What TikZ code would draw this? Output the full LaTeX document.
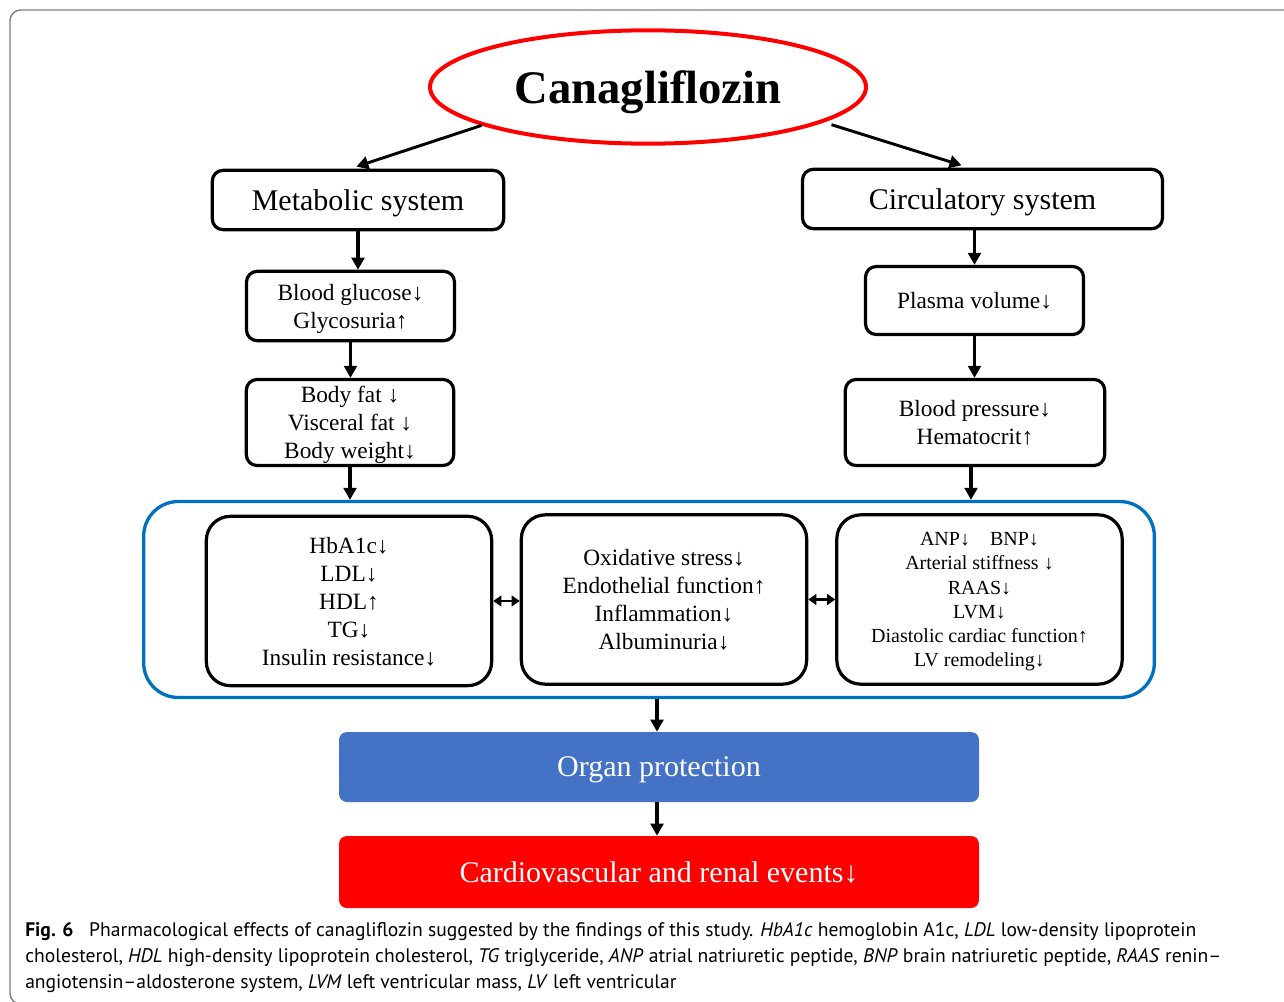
\documentclass[tikz,border=0pt]{standalone}
\usepackage{fontspec}
\setmainfont{Liberation Serif}
\newfontfamily\capfont{PT Sans}
\usetikzlibrary{shapes.geometric,arrows.meta}
\definecolor{groupblue}{HTML}{0070C0}
\definecolor{organblue}{HTML}{4472C4}
\definecolor{eventred}{HTML}{FF0000}
\definecolor{framegray}{HTML}{808080}

\begin{document}
\begin{tikzpicture}[x=0.75pt,y=-0.75pt,
	box/.style={draw, line width=2.4pt, rounded corners=8pt, align=center, inner sep=0pt, text depth=0pt},
	bigbox/.style={box, rounded corners=18pt, minimum width=214pt, minimum height=127pt},
	fillbox/.style={rounded corners=6pt, text=white, inner sep=0pt, minimum width=480pt, text depth=0pt,
		font=\fontsize{22.5}{27}\selectfont},
	arr/.style={line width=2.5pt, -{Triangle[length=9pt,width=9.5pt]}},
	dblarr/.style={line width=2.2pt, {Triangle[length=6pt,width=8pt]}-{Triangle[length=6pt,width=8pt]}},
	capline/.style={anchor=base west, inner sep=0pt, font=\capfont\fontsize{14.7}{17}\selectfont}]

	\useasboundingbox (0,0) rectangle (1284,1002);
	\clip (0,0) rectangle (1284,1002);

	% Draw the page frame
	\draw[framegray, line width=1.1pt, rounded corners=8pt] (10,10) rectangle (1320,1004);

	% Draw the drug on top
	\node[draw=eventred, line width=3pt, ellipse, minimum width=327pt, minimum height=85pt,
		inner sep=0pt, text depth=0pt, font=\bfseries\fontsize{35}{40}\selectfont] (cana) at (648,87) {Canagliflozin};

	% Draw the two systems
	\node[box, minimum width=218.5pt, minimum height=44.5pt, font=\fontsize{22.5}{27}\selectfont]
		(metab) at (358,200) {Metabolic system};
	\node[box, minimum width=270pt, minimum height=44.5pt, font=\fontsize{22.5}{27}\selectfont]
		(circ) at (982.5,199) {Circulatory system};

	% Draw the metabolic branch
	\node[box, minimum width=156pt, minimum height=52pt, font=\fontsize{17.5}{21}\selectfont]
		(gluc) at (350.5,306) {Blood glucose↓\\Glycosuria↑};
	\node[box, minimum width=155.5pt, minimum height=64.5pt, font=\fontsize{17.5}{21}\selectfont]
		(fat) at (350,422.5) {Body fat ↓\\Visceral fat ↓\\Body weight↓};

	% Draw the circulatory branch
	\node[box, minimum width=163.5pt, minimum height=51pt, font=\fontsize{17.5}{21}\selectfont]
		(plasma) at (974.5,300.5) {Plasma volume↓};
	\node[box, minimum width=194.5pt, minimum height=64.5pt, font=\fontsize{17.5}{21}\selectfont]
		(bp) at (975,422.5) {Blood pressure↓\\Hematocrit↑};

	% Draw the blue group and the three effect boxes
	\node[draw=groupblue, line width=2.5pt, rounded corners=26pt, minimum width=758pt,
		minimum height=147pt] (group) at (649,599.5) {};
	\node[bigbox, font=\fontsize{17.5}{21}\selectfont] (lipid) at (349,601)
		{HbA1c↓\\LDL↓\\HDL↑\\TG↓\\Insulin resistance↓};
	\node[bigbox, font=\fontsize{17.5}{21}\selectfont] (oxid) at (664,599.5)
		{Oxidative stress↓\\Endothelial function↑\\Inflammation↓\\Albuminuria↓};
	\node[bigbox, font=\fontsize{15}{18.1}\selectfont] (cardiac) at (979.5,599.5)
		{ANP↓\quad BNP↓\\Arterial stiffness ↓\\RAAS↓\\LVM↓\\Diastolic cardiac function↑\\LV remodeling↓};

	% Draw the outcome boxes
	\node[fillbox, fill=organblue, minimum height=52.5pt] (organ) at (659,767) {Organ protection};
	\node[fillbox, fill=eventred, minimum height=54pt] (events) at (659,872) {Cardiovascular and renal events↓};

	% Draw the arrows
	\draw[arr, line width=2.2pt, shorten >=5pt] (cana.193) -- ([xshift=-6pt]metab.north);
	\draw[arr, line width=2.2pt, shorten >=6pt] ([yshift=-4pt]cana.350) -- ([xshift=-10pt]circ.north);
	\draw[arr] (metab.south) -- (metab.south |- gluc.north);
	\draw[arr] (gluc.south) -- (gluc.south |- fat.north);
	\draw[arr] (fat.south) -- (fat.south |- group.north);
	\draw[arr] (plasma.north |- circ.south) -- (plasma.north);
	\draw[arr] (plasma.south) -- (plasma.south |- bp.north);
	\draw[arr] ([xshift=-3pt]bp.south) -- ([xshift=-3pt]bp.south |- group.north);
	\draw[dblarr] (lipid.east) -- (lipid.east -| oxid.west);
	\draw[dblarr] (oxid.east) -- (oxid.east -| cardiac.west);
	\draw[arr] ([xshift=-1.5pt]organ.north |- group.south) -- ([xshift=-1.5pt]organ.north);
	\draw[arr] ([xshift=-1.5pt]organ.south) -- ([xshift=-1.5pt]events.north);

	% Draw the caption
	\node[capline] (cap1) at (25,936) {\textbf{Fig. 6}\hspace{0.8em}Pharmacological effects of canagliflozin suggested by the findings of this study. \textit{HbA1c} hemoglobin A1c, \textit{LDL} low-density lipoprotein};
	\node[capline] (cap2) at (25,962) {cholesterol, \textit{HDL} high-density lipoprotein cholesterol, \textit{TG} triglyceride, \textit{ANP} atrial natriuretic peptide, \textit{BNP} brain natriuretic peptide, \textit{RAAS} renin–};
	\node[capline] (cap3) at (25,988) {angiotensin–aldosterone system, \textit{LVM} left ventricular mass, \textit{LV} left ventricular};

\end{tikzpicture}
\end{document}
